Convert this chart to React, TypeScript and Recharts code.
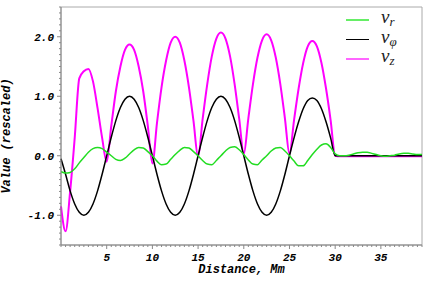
import { Legend, Line, LineChart, ReferenceArea, XAxis, YAxis } from 'recharts';

const distance = [
  0, 0.5, 1, 1.5, 2, 2.5, 3, 3.5, 4, 4.5, 5, 5.5, 6, 6.5, 7, 7.5, 8, 8.5, 9, 9.5,
  10, 10.5, 11, 11.5, 12, 12.5, 13, 13.5, 14, 14.5, 15, 15.5, 16, 16.5, 17, 17.5, 18, 18.5, 19, 19.5,
  20, 20.5, 21, 21.5, 22, 22.5, 23, 23.5, 24, 24.5, 25, 25.5, 26, 26.5, 27, 27.5, 28, 28.5, 29, 29.5,
  30, 30.5, 31, 31.5, 32, 32.5, 33, 33.5, 34, 34.5, 35, 35.5, 36, 36.5, 37, 37.5, 38, 38.5, 39, 39.5,
];

const vR = [
  -0.27, -0.29, -0.28, -0.22, -0.12, -0.03, 0.06, 0.12, 0.14, 0.12, 0.06, 0.0, -0.06, -0.08, -0.04, 0.03, 0.1, 0.14, 0.13, 0.07,
  0.0, -0.09, -0.15, -0.14, -0.06, 0.02, 0.09, 0.14, 0.13, 0.07, 0.0, -0.08, -0.14, -0.15, -0.08, 0.0, 0.08, 0.14, 0.15, 0.1,
  0.02, -0.07, -0.14, -0.15, -0.07, 0.0, 0.08, 0.13, 0.14, 0.08, 0.0, -0.09, -0.17, -0.17, -0.08, 0.02, 0.11, 0.18, 0.2, 0.14,
  0.03, 0.0, 0.0, 0.01, 0.03, 0.05, 0.06, 0.06, 0.04, 0.02, 0.0, -0.01, 0.0, 0.01, 0.03, 0.04, 0.04, 0.03, 0.02, 0.02,
];

const vPhi = [
  -0.05, -0.31, -0.59, -0.81, -0.95, -1.0, -0.95, -0.81, -0.59, -0.31, 0.0, 0.31, 0.59, 0.81, 0.95, 1.0, 0.95, 0.81, 0.59, 0.31,
  0.0, -0.31, -0.59, -0.81, -0.95, -1.0, -0.95, -0.81, -0.59, -0.31, 0.0, 0.31, 0.59, 0.81, 0.95, 1.0, 0.95, 0.81, 0.59, 0.31,
  0.0, -0.31, -0.59, -0.81, -0.95, -1.0, -0.95, -0.81, -0.59, -0.31, 0.0, 0.3, 0.57, 0.79, 0.93, 0.97, 0.93, 0.79, 0.57, 0.3,
  0.0, 0.0, 0.0, 0.0, 0.0, 0.0, 0.0, 0.0, 0.0, 0.0, 0.0, 0.0, 0.0, 0.0, 0.0, 0.0, 0.0, 0.0, 0.0, 0.0,
];

const vZ = [
  -0.85, -1.27, -0.6, 0.3, 1.3, 1.42, 1.46, 1.25, 0.8, 0.3, -0.1, 0.5, 1.08, 1.5, 1.78, 1.87, 1.78, 1.5, 1.08, 0.5,
  -0.13, 0.55, 1.15, 1.6, 1.9, 2.0, 1.9, 1.6, 1.15, 0.58, -0.02, 0.62, 1.2, 1.67, 1.97, 2.07, 1.97, 1.67, 1.2, 0.62,
  0.03, 0.63, 1.2, 1.65, 1.94, 2.04, 1.94, 1.65, 1.2, 0.63, 0.03, 0.6, 1.13, 1.56, 1.84, 1.93, 1.84, 1.56, 1.13, 0.6,
  0.0, -0.01, -0.01, -0.01, -0.01, -0.01, -0.01, -0.01, -0.01, -0.01, -0.01, -0.01, -0.01, -0.01, -0.01, -0.01, -0.01, -0.01, -0.01, -0.01,
];

const xMajor = [5, 10, 15, 20, 25, 30, 35];
const yMajor = [-1, 0, 1, 2];
const yLabels = ['-1.0', '0.0', '1.0', '2.0'];

const xTicks = Array.from({ length: 80 }, (_, i) => i / 2);
const yTicks = Array.from({ length: 41 }, (_, i) => Math.round(i - 15) / 10);

const data = distance.map((d, i) => ({ d, vr: vR[i], vphi: vPhi[i], vz: vZ[i] }));

const monoFont = '"Liberation Mono", "DejaVu Sans Mono", monospace';
const axisColor = '#888';

function XTick({ x, y, payload }: any) {
  const v = payload.value;
  const major = xMajor.includes(v);
  return (
    <g>
      <line x1={x} x2={x} y1={y} y2={y + (major ? 4 : 2)} stroke={axisColor} />
      {major && (
        <text x={x} y={y + 16} textAnchor="middle" fontFamily={monoFont} fontSize={11}
          fontWeight="bold" fontStyle="italic" fill="#000">{v}</text>
      )}
    </g>
  );
}

function YTick({ x, y, payload }: any) {
  const v = payload.value;
  const idx = yMajor.findIndex((m) => Math.abs(m - v) < 1e-6);
  return (
    <g>
      <line x1={x} x2={x - (idx >= 0 ? 4 : 2)} y1={y} y2={y} stroke={axisColor} />
      {idx >= 0 && (
        <text x={x - 7} y={y + 4} textAnchor="end" fontFamily={monoFont} fontSize={11}
          fontWeight="bold" fontStyle="italic" fill="#000">{yLabels[idx]}</text>
      )}
    </g>
  );
}

const legendItems = [
  { color: '#66ee66', width: 2, sub: 'r' },
  { color: '#000', width: 1, sub: 'φ' },
  { color: '#ff66ff', width: 2, sub: 'z' },
];

function LegendBox() {
  return (
    <div style={{ fontFamily: '"Liberation Serif", "DejaVu Serif", serif', fontStyle: 'italic' }}>
      {legendItems.map((it) => (
        <div key={it.sub} style={{ display: 'flex', alignItems: 'center', height: 19.5 }}>
          <div style={{ width: 23, height: it.width, background: it.color, marginRight: 12 }} />
          <span style={{ fontSize: 19, lineHeight: '18px', color: '#222' }}>
            v<sub style={{ fontSize: 13, verticalAlign: -3 }}>{it.sub}</sub>
          </span>
        </div>
      ))}
    </div>
  );
}

export default function App() {
  return (
    <div style={{ position: 'absolute', left: 0, top: 0, background: '#fff' }}>
      <LineChart width={436} height={282} data={data} margin={{ top: 7, right: 14, left: 0, bottom: 0 }}>
        <ReferenceArea x1={0} x2={39.5} y1={-1.5} y2={2.5} fill="none" stroke="#aaa" ifOverflow="extendDomain" />
        <XAxis dataKey="d" type="number" domain={[0, 39.5]} ticks={xTicks} interval={0} height={37}
          tickSize={0} tickMargin={0} tickLine={false} stroke={axisColor} tick={<XTick />}
          label={{ value: 'Distance, Mm', position: 'insideBottom', offset: 9, fontFamily: monoFont,
            fontSize: 12, fontWeight: 'bold', fontStyle: 'italic', fill: '#000' }} />
        <YAxis type="number" domain={[-1.5, 2.5]} ticks={yTicks} interval={0} width={61}
          tickSize={0} tickMargin={0} tickLine={false} stroke={axisColor} tick={<YTick />}
          label={{ value: 'Value (rescaled)', angle: -90, position: 'insideLeft', offset: 6, dy: 10,
            fontFamily: monoFont, fontSize: 12, fontWeight: 'bold', fontStyle: 'italic', fill: '#000',
            style: { textAnchor: 'middle' } }} />
        <Legend layout="vertical" align="center" verticalAlign="middle" content={<LegendBox />}
          wrapperStyle={{ top: 10, left: 346, width: 70 }} />
        <Line dataKey="vz" type="monotone" stroke="#ff00ff" strokeWidth={2} dot={false} isAnimationActive={false} />
        <Line dataKey="vphi" type="monotone" stroke="#000" strokeWidth={1.5} dot={false} isAnimationActive={false} />
        <Line dataKey="vr" type="monotone" stroke="#22dd22" strokeWidth={1.5} dot={false} isAnimationActive={false} />
      </LineChart>
    </div>
  );
}
